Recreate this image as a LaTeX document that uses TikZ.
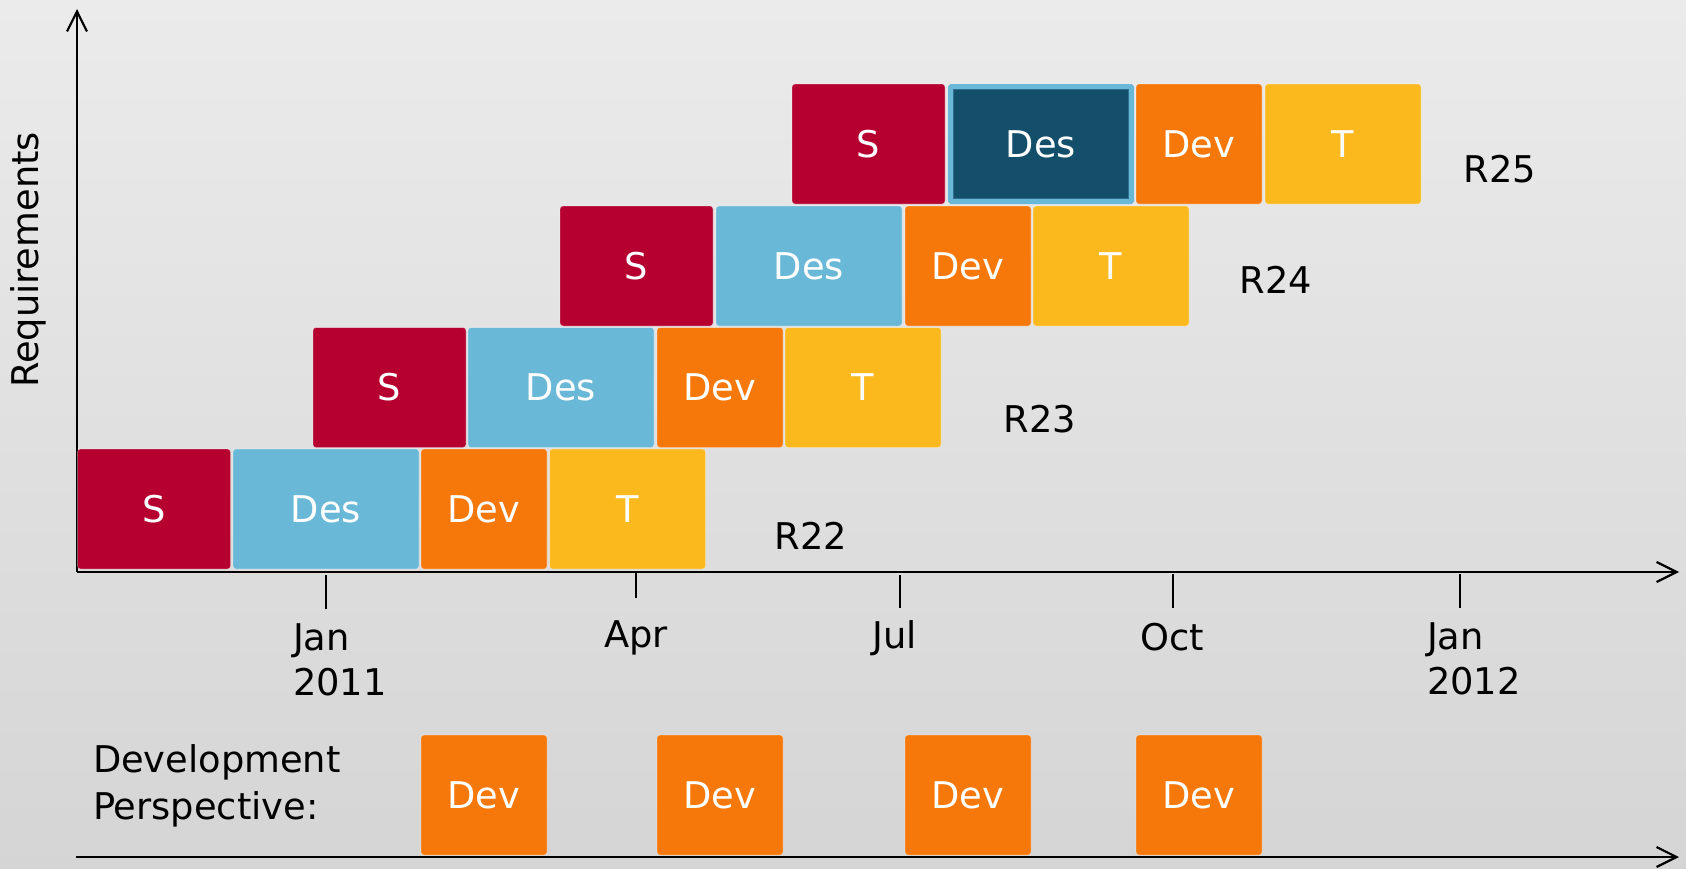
\documentclass[tikz,border=0pt]{standalone}
\usepackage{fontspec}
\setmainfont{DejaVu Sans}
\usetikzlibrary{arrows.meta}
\definecolor{specred}{HTML}{B50030}
\definecolor{desblue}{HTML}{6AB8D7}
\definecolor{devorange}{HTML}{F7780A}
\definecolor{testyellow}{HTML}{FBB91E}
\definecolor{desdark}{HTML}{134F6B}
\definecolor{desedge}{HTML}{2F6F8E}
\definecolor{bgtop}{HTML}{EBEBEB}
\definecolor{bgbottom}{HTML}{D5D5D5}

\begin{document}
\begin{tikzpicture}[x=0.5pt,y=-0.5pt,
  every node/.style={inner sep=0pt, outer sep=0pt},
  lbl/.style={font=\fontsize{18.4}{22.5}\selectfont, text=black},
  phasebox/.style={rectangle, rounded corners=1.5pt, minimum height=60pt,
    text=white, font=\fontsize{18.4}{22.5}\selectfont,
    draw=white, draw opacity=0.35, line width=0.4pt},
  spec/.style={phasebox, fill=specred, minimum width=76.5pt},
  des/.style={phasebox, fill=desblue, minimum width=93pt},
  devp/.style={phasebox, fill=devorange, minimum width=63pt},
  tst/.style={phasebox, fill=testyellow, minimum width=78pt},
  axisline/.style={line width=1.1pt, draw=black, -{Straight Barb[length=10pt,width=10pt]}},
  tickmark/.style={line width=1pt, draw=black},
]
% canvas and background gradient
\useasboundingbox (0,0) rectangle (1686,868);
\shade[top color=bgtop, bottom color=bgbottom] (0,0) rectangle (1686,868);

% axes
\coordinate (origin) at (77,572);
\coordinate (ytop) at (77,9);
\coordinate (xend) at (1679,572);
\coordinate (bstart) at (76,857);
\coordinate (bend) at (1679,857);
\draw[axisline] (origin) -- (xend);
\draw[axisline] (origin) -- (ytop);
\draw[axisline] (bstart) -- (bend);

% month ticks
\coordinate (t1a) at (326,575);  \coordinate (t1b) at (326,609);
\coordinate (t2a) at (636,572);  \coordinate (t2b) at (636,598);
\coordinate (t3a) at (900,575);  \coordinate (t3b) at (900,608);
\coordinate (t4a) at (1173,574); \coordinate (t4b) at (1173,608);
\coordinate (t5a) at (1460,574); \coordinate (t5b) at (1460,608);
\draw[tickmark] (t1a) -- (t1b);
\draw[tickmark] (t2a) -- (t2b);
\draw[tickmark] (t3a) -- (t3b);
\draw[tickmark] (t4a) -- (t4b);
\draw[tickmark] (t5a) -- (t5b);

% month labels
\node[lbl, anchor=north west, align=left] (jan11) at (293,624) {Jan\\2011};
\node[lbl, anchor=base] (apr) at (636,647) {Apr};
\node[lbl, anchor=base] (jul) at (895,648) {Jul};
\node[lbl, anchor=base] (oct) at (1172,650) {Oct};
\node[lbl, anchor=north west, align=left] (jan12) at (1427,623) {Jan\\2012};

% axis title
\node[lbl, rotate=90] (req) at (28,260) {Requirements};

% release R22
\node[spec] (r22s) at (154,509) {S};
\node[des]  (r22d) at (326,509) {Des};
\node[devp] (r22v) at (484,509) {Dev};
\node[tst]  (r22t) at (627.5,509) {T};
\node[lbl, anchor=base] (r22lab) at (811,549) {R22};

% release R23
\node[spec] (r23s) at (389.5,387.5) {S};
\node[des]  (r23d) at (561,387.5) {Des};
\node[devp] (r23v) at (720,387.5) {Dev};
\node[tst]  (r23t) at (863,387.5) {T};
\node[lbl, anchor=base] (r23lab) at (1040,432) {R23};

% release R24
\node[spec] (r24s) at (636.5,266) {S};
\node[des]  (r24d) at (809,266) {Des};
\node[devp] (r24v) at (968,266) {Dev};
\node[tst]  (r24t) at (1111,266) {T};
\node[lbl, anchor=base] (r24lab) at (1276,293) {R24};

% release R25 (design phase highlighted)
\node[spec] (r25s) at (868.5,144) {S};
\node[des, fill=desdark, draw=desblue, draw opacity=1, line width=2.5pt,
      rounded corners=0.5pt, minimum width=90.5pt, minimum height=57.5pt]
      (r25d) at (1041,144) {Des};
\draw[desedge, line width=0.5pt]
      ([xshift=1.5pt,yshift=-1.5pt]r25d.north west) rectangle
      ([xshift=-1.5pt,yshift=1.5pt]r25d.south east);
\node[devp] (r25v) at (1199,144) {Dev};
\node[tst]  (r25t) at (1343,144) {T};
\node[lbl, anchor=base] (r25lab) at (1500,182) {R25};

% development perspective
\node[lbl, anchor=north west, align=left, font=\fontsize{18.4}{23.5}\selectfont]
      (devpersp) at (93,745) {Development\\Perspective:};
\node[devp] (pd1) at (484,795) {Dev};
\node[devp] (pd2) at (720,795) {Dev};
\node[devp] (pd3) at (968,795) {Dev};
\node[devp] (pd4) at (1199,795) {Dev};
\end{tikzpicture}
\end{document}
